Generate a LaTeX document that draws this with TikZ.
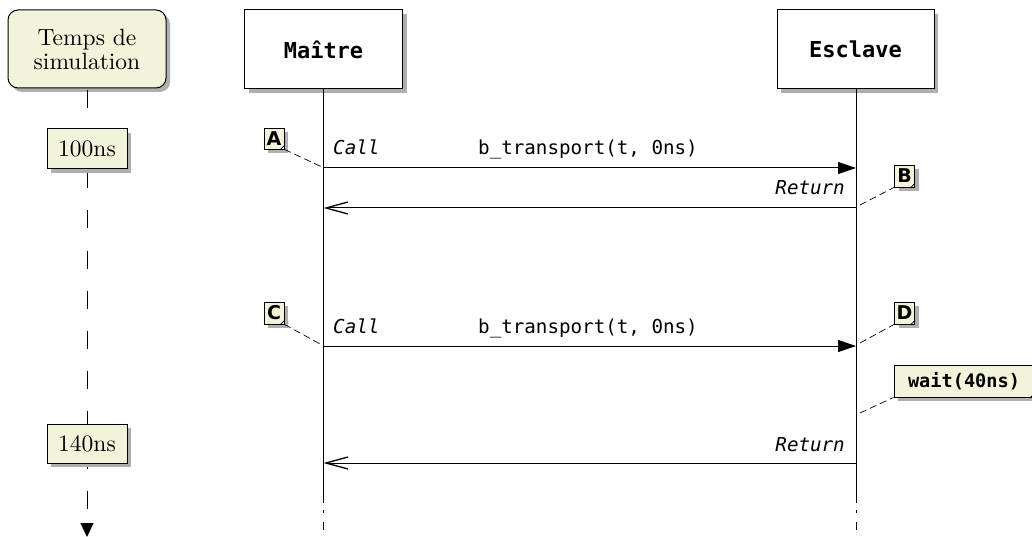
\documentclass[tikz,border=0pt]{standalone}
\usepackage{fontspec}
\newfontfamily\monof{DejaVu Sans Mono}
\newfontfamily\lettf{DejaVu Sans}
\newfontfamily\lmten{lmroman10-regular}[Extension=.otf]
\usetikzlibrary{arrows.meta,shadows}
\definecolor{boxfill}{RGB}{243,243,219}
\definecolor{shadowc}{RGB}{175,175,175}
\begin{document}
\begin{tikzpicture}[x=1pt,y=-1pt,
  shad/.style={drop shadow={shadow xshift=4pt,shadow yshift=-4pt,fill=shadowc,opacity=1}},
  timebox/.style={draw, fill=boxfill, line width=1pt, minimum width=80pt, minimum height=40pt, inner sep=0pt, font=\lmten\fontsize{23.5}{25}\selectfont, shad},
  partbox/.style={draw, fill=white, line width=1pt, minimum width=158pt, minimum height=79pt, inner sep=0pt, font=\monof\bfseries\fontsize{22}{26}\selectfont, shad},
  notebox/.style={draw, fill=boxfill, line width=0.8pt, inner sep=0pt, shad},
  letter/.style={font=\lettf\bfseries\fontsize{19}{21}\selectfont},
  msg/.style={line width=1pt},
  lbl/.style={inner sep=0pt, font=\monof\fontsize{19.2}{22}\selectfont},
  lblit/.style={inner sep=0pt, font=\monof\itshape\fontsize{19.2}{22}\selectfont},
  notelink/.style={line width=0.7pt, dash pattern=on 7pt off 4pt},
  fold/.style={line width=0.7pt}
]
\useasboundingbox (0,0) rectangle (1032,537);

% time column
\node[timebox, rounded corners=10pt, minimum width=158pt, minimum height=78pt, align=center] (T) at (87,49) {Temps de\\[-1pt]simulation};
\coordinate (Tend) at (87,537);
\draw[line width=1pt, dash pattern=on 18pt off 22pt, dash phase=38pt, -{Triangle[length=14pt,width=13pt]}] (T.south) -- (Tend);
\node[timebox] (t100) at (87,149) {100ns};
\node[timebox, minimum height=39pt] (t140) at (87,443.5) {140ns};

% participants
\node[partbox] (M) at (323.5,49.5) {Maître};
\node[partbox, minimum width=157pt] (E) at (855.5,49.5) {Esclave};

\coordinate (Mend) at (323.5,503);
\coordinate (Eend) at (856,503);
\draw[line width=1pt] (M.south) -- (Mend);
\draw[line width=1pt] (E.south -| Eend) -- (Eend);
\draw[line width=1pt] (323.5,510) -- (323.5,513) (323.5,522) -- (323.5,530);
\draw[line width=1pt] (856,510) -- (856,513) (856,522) -- (856,530);

% message coordinates
\coordinate (m1a) at (323.5,168); \coordinate (m1b) at (856,168);
\coordinate (m2a) at (323.5,208); \coordinate (m2b) at (856,208);
\coordinate (m3a) at (323.5,346); \coordinate (m3b) at (856,346);
\coordinate (m4a) at (323.5,463); \coordinate (m4b) at (856,463);

\draw[msg, -{Triangle[length=18pt,width=12pt]}] (m1a) -- (m1b);
\draw[msg, -{Straight Barb[length=22pt,width=12pt,line width=1.3pt]}] (m2b) -- (m2a);
\draw[msg, -{Triangle[length=18pt,width=12pt]}] (m3a) -- (m3b);
\draw[msg, -{Straight Barb[length=22pt,width=12pt,line width=1.3pt]}] (m4b) -- (m4a);

\node[lblit, anchor=base west] (call1) at (333,155) {Call};
\node[lbl, anchor=base] (bt1) at (588,155) {b\_transport(t, 0ns)};
\node[lblit, anchor=base east] (ret1) at (845,195) {Return};
\node[lblit, anchor=base west] (call2) at (333,333) {Call};
\node[lbl, anchor=base] (bt2) at (588,333) {b\_transport(t, 0ns)};
\node[lblit, anchor=base east] (ret2) at (845,451) {Return};

% notes
\node[notebox, letter, minimum width=20pt, minimum height=21pt] (A) at (274,138.5) {A};
\node[notebox, letter, minimum width=20pt, minimum height=22pt] (B) at (904.5,176) {B};
\node[notebox, letter, minimum width=20pt, minimum height=22pt] (C) at (274,313) {C};
\node[notebox, letter, minimum width=20pt, minimum height=22pt] (D) at (904.5,313) {D};
\node[notebox, minimum width=140pt, minimum height=32pt, font=\monof\bfseries\fontsize{18.6}{20}\selectfont] (W) at (964,381) {wait(40ns)};

\foreach \n in {A,B,C,D,W}{
  \draw[fold] ([xshift=-4pt]\n.south east) -- ([yshift=4pt]\n.south east);
}

\coordinate (la) at (322,167);
\coordinate (lb) at (860,205);
\coordinate (lc) at (322,345);
\coordinate (ld) at (860,343);
\coordinate (lw) at (860,413);
\draw[notelink] (A.south east) -- (la);
\draw[notelink] (lb) -- (B.south west);
\draw[notelink] (C.south east) -- (lc);
\draw[notelink] (ld) -- (D.south west);
\draw[notelink] (lw) -- (W.south west);
\end{tikzpicture}
\end{document}
